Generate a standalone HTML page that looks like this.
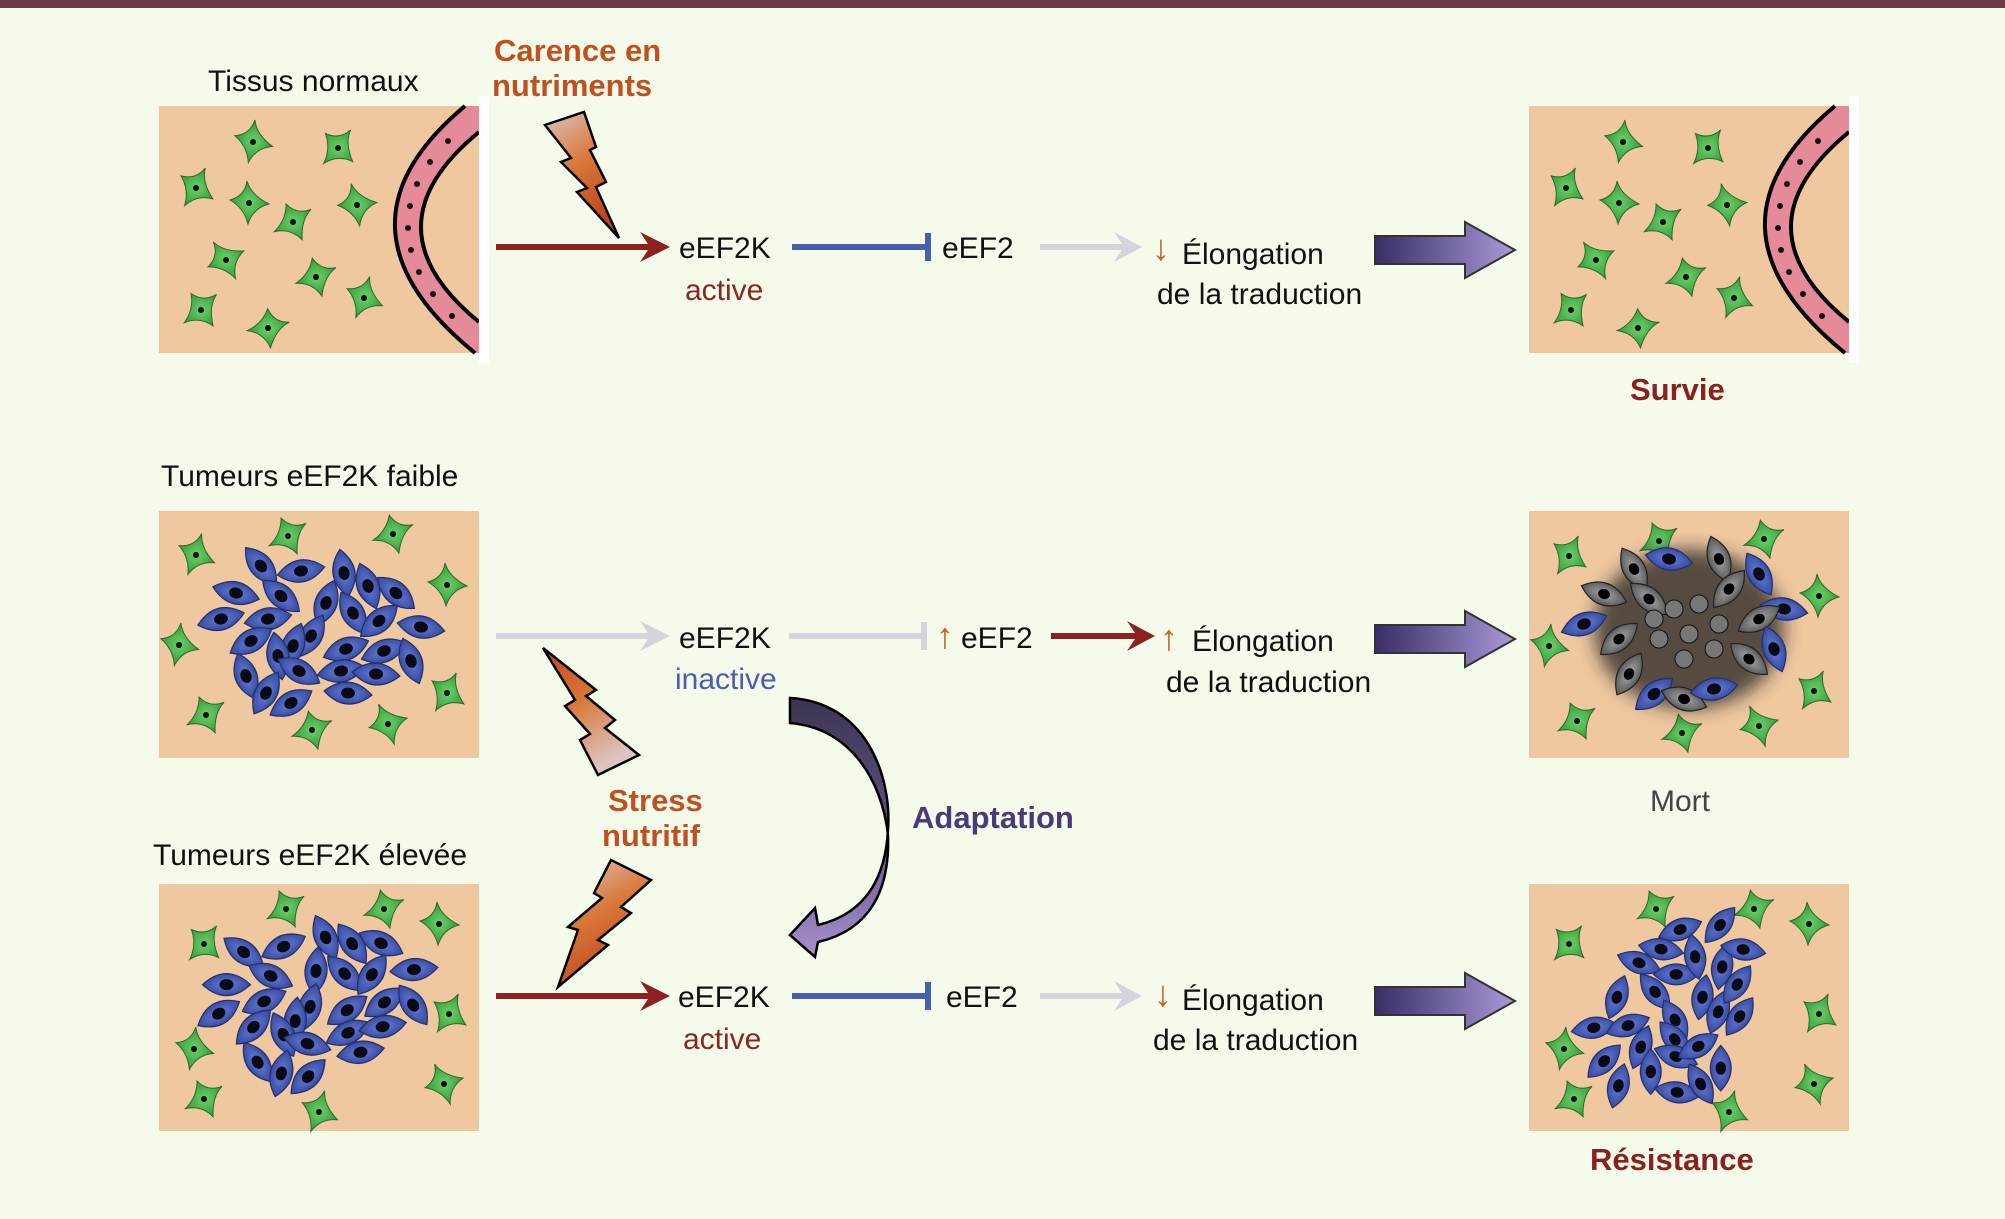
<!DOCTYPE html>
<html><head><meta charset="utf-8"><style>
html,body{margin:0;padding:0;background:#f4fbea;}
svg{display:block}
text{font-family:"Liberation Sans",sans-serif;}
</style></head><body>
<svg width="2005" height="1219" viewBox="0 0 2005 1219" xmlns="http://www.w3.org/2000/svg">
<defs>
<linearGradient id="lg1" x1="0" y1="0" x2="0.4" y2="1"><stop offset="0" stop-color="#dcc4c0"/><stop offset="0.5" stop-color="#d9783a"/><stop offset="1" stop-color="#c0461a"/></linearGradient>
<linearGradient id="lg2" x1="0" y1="0" x2="0.4" y2="1"><stop offset="0" stop-color="#c0461a"/><stop offset="0.5" stop-color="#d9783a"/><stop offset="1" stop-color="#dcc4c0"/></linearGradient>
<linearGradient id="lg3" x1="0.4" y1="1" x2="0" y2="0"><stop offset="0" stop-color="#c0461a"/><stop offset="0.5" stop-color="#d9783a"/><stop offset="1" stop-color="#dcc4c0"/></linearGradient>
<linearGradient id="pa" x1="0" y1="0" x2="1" y2="0"><stop offset="0" stop-color="#3a2d66"/><stop offset="1" stop-color="#a99ad8"/></linearGradient>
<linearGradient id="ca" x1="0" y1="0" x2="0" y2="1"><stop offset="0" stop-color="#3d3552"/><stop offset="0.5" stop-color="#5e5080"/><stop offset="1" stop-color="#a890d0"/></linearGradient>
<radialGradient id="gc"><stop offset="0" stop-color="#6fd06a"/><stop offset="1" stop-color="#2f9a3a"/></radialGradient>
<radialGradient id="bcg"><stop offset="0" stop-color="#6a80d8"/><stop offset="1" stop-color="#3448a0"/></radialGradient>
<radialGradient id="gyg"><stop offset="0" stop-color="#aaa"/><stop offset="1" stop-color="#555"/></radialGradient>
<filter id="bl"><feGaussianBlur stdDeviation="9"/></filter>
<g id="g"><path d="M-2,-22 Q2,-8 20,1 Q4,5 -1,21 Q-5,5 -19,-3 Q-4,-7 -2,-22Z" fill="url(#gc)" stroke="#2a6a2a" stroke-width="1"/><circle r="3" fill="#111"/></g>
<g id="b"><path d="M-24,0 Q0,-22 24,0 Q0,22 -24,0Z" fill="url(#bcg)" stroke="#24306a" stroke-width="1.2"/><ellipse rx="7" ry="5.5" fill="#0a0a14"/></g>
<g id="y"><path d="M-24,0 Q0,-22 24,0 Q0,22 -24,0Z" fill="url(#gyg)" stroke="#222" stroke-width="1.2"/><ellipse rx="6" ry="5" fill="#000"/></g>
<g id="cluster">
<use href="#b" transform="translate(-60,-75) rotate(50)"/>
<use href="#b" transform="translate(-20,-70) rotate(-10)"/>
<use href="#b" transform="translate(23,-68) rotate(80)"/>
<use href="#b" transform="translate(47,-55) rotate(70)"/>
<use href="#b" transform="translate(75,-48) rotate(40)"/>
<use href="#b" transform="translate(-85,-48) rotate(15)"/>
<use href="#b" transform="translate(-40,-45) rotate(40)"/>
<use href="#b" transform="translate(5,-38) rotate(-70)"/>
<use href="#b" transform="translate(32,-28) rotate(60)"/>
<use href="#b" transform="translate(-100,-22) rotate(-15)"/>
<use href="#b" transform="translate(-53,-22) rotate(-10)"/>
<use href="#b" transform="translate(-10,-5) rotate(-60)"/>
<use href="#b" transform="translate(58,-20) rotate(-40)"/>
<use href="#b" transform="translate(100,-14) rotate(10)"/>
<use href="#b" transform="translate(-70,0) rotate(-30)"/>
<use href="#b" transform="translate(-28,5) rotate(-70)"/>
<use href="#b" transform="translate(25,8) rotate(-20)"/>
<use href="#b" transform="translate(63,10) rotate(-20)"/>
<use href="#b" transform="translate(90,20) rotate(70)"/>
<use href="#b" transform="translate(-43,15) rotate(80)"/>
<use href="#b" transform="translate(-75,35) rotate(70)"/>
<use href="#b" transform="translate(-22,30) rotate(30)"/>
<use href="#b" transform="translate(20,30) rotate(-10)"/>
<use href="#b" transform="translate(55,33) rotate(5)"/>
<use href="#b" transform="translate(-55,52) rotate(-60)"/>
<use href="#b" transform="translate(-30,62) rotate(-30)"/>
<use href="#b" transform="translate(27,52) rotate(5)"/>
</g>
<g id="vessel">
<path d="M306,0 Q161,121 316,247 L320,247 L320,216 Q204,121 320,26 L320,0Z" fill="#e58a98"/>
<g fill="#111">
<circle cx="289" cy="35" r="3"/><circle cx="271" cy="56" r="3"/><circle cx="258" cy="78" r="3"/><circle cx="251" cy="100" r="3"/><circle cx="249" cy="122" r="3"/><circle cx="252" cy="144" r="3"/><circle cx="260" cy="166" r="3"/><circle cx="274" cy="188" r="3"/><circle cx="293" cy="210" r="3"/></g>
<path d="M306,0 Q161,121 316,247" fill="none" stroke="#000" stroke-width="4"/>
<path d="M320,26 Q204,121 320,216" fill="none" stroke="#000" stroke-width="4"/>
<rect x="320" y="-10" width="10" height="267" fill="#fff"/>
</g>
</defs>
<rect x="0" y="0" width="2005" height="8" fill="#6b3a48"/>

<!-- Panel 1 left -->
<g transform="translate(159,106)">
<rect width="320" height="247" fill="#efc8a0"/>
<use href="#g" transform="translate(94,36) rotate(10)"/><use href="#g" transform="translate(179,42) rotate(40)"/>
<use href="#g" transform="translate(37,82) rotate(30)"/><use href="#g" transform="translate(90,97)"/>
<use href="#g" transform="translate(134,116) rotate(60)"/><use href="#g" transform="translate(198,99) rotate(-10)"/>
<use href="#g" transform="translate(67,154) rotate(-30)"/><use href="#g" transform="translate(157,171) rotate(70)"/>
<use href="#g" transform="translate(205,192) rotate(20)"/><use href="#g" transform="translate(42,204) rotate(50)"/>
<use href="#g" transform="translate(109,222) rotate(80)"/>
<use href="#vessel"/>
</g>
<!-- Panel 1 right -->
<g transform="translate(1529,106)">
<rect width="320" height="247" fill="#efc8a0"/>
<use href="#g" transform="translate(94,36) rotate(10)"/><use href="#g" transform="translate(179,42) rotate(40)"/>
<use href="#g" transform="translate(37,82) rotate(30)"/><use href="#g" transform="translate(90,97)"/>
<use href="#g" transform="translate(134,116) rotate(60)"/><use href="#g" transform="translate(198,99) rotate(-10)"/>
<use href="#g" transform="translate(67,154) rotate(-30)"/><use href="#g" transform="translate(157,171) rotate(70)"/>
<use href="#g" transform="translate(205,192) rotate(20)"/><use href="#g" transform="translate(42,204) rotate(50)"/>
<use href="#g" transform="translate(109,222) rotate(80)"/>
<use href="#vessel"/>
</g>

<!-- Panel 2 left -->
<g transform="translate(159,511)">
<rect width="320" height="247" fill="#efc8a0"/>
<use href="#g" transform="translate(37,44) rotate(20)"/><use href="#g" transform="translate(129,25) rotate(60)"/>
<use href="#g" transform="translate(234,23) rotate(70)"/><use href="#g" transform="translate(288,74)"/>
<use href="#g" transform="translate(20,134) rotate(10)"/><use href="#g" transform="translate(288,182) rotate(30)"/>
<use href="#g" transform="translate(47,204) rotate(60)"/><use href="#g" transform="translate(153,219) rotate(70)"/>
<use href="#g" transform="translate(229,213) rotate(-20)"/>
<use href="#cluster" transform="translate(162,130)"/>
</g>
<!-- Panel 3 left -->
<g transform="translate(159,884)">
<rect width="320" height="247" fill="#efc8a0"/>
<use href="#g" transform="translate(45,60) rotate(40)"/><use href="#g" transform="translate(127,25) rotate(60)"/>
<use href="#g" transform="translate(225,25) rotate(70)"/><use href="#g" transform="translate(280,40)"/>
<use href="#g" transform="translate(35,165) rotate(10)"/><use href="#g" transform="translate(290,130) rotate(30)"/>
<use href="#g" transform="translate(45,215) rotate(60)"/><use href="#g" transform="translate(160,228) rotate(20)"/>
<use href="#g" transform="translate(285,200) rotate(-20)"/>
<use href="#cluster" transform="translate(162,125) rotate(-15)"/>
</g>
<!-- Panel 2 right (Mort) -->
<g transform="translate(1529,511)">
<rect width="320" height="247" fill="#efc8a0"/>
<use href="#g" transform="translate(40,45) rotate(30)"/><use href="#g" transform="translate(130,30) rotate(60)"/>
<use href="#g" transform="translate(235,28) rotate(70)"/><use href="#g" transform="translate(290,85)"/>
<use href="#g" transform="translate(20,135) rotate(10)"/><use href="#g" transform="translate(285,180) rotate(30)"/>
<use href="#g" transform="translate(48,210) rotate(60)"/><use href="#g" transform="translate(153,222) rotate(70)"/>
<use href="#g" transform="translate(230,215) rotate(-20)"/>
<ellipse cx="160" cy="118" rx="95" ry="80" fill="#222" filter="url(#bl)" opacity="0.75"/>
<g transform="translate(160,118)">
<use href="#y" transform="translate(-55,-60) rotate(60)"/><use href="#b" transform="translate(-20,-70) rotate(10)"/>
<use href="#y" transform="translate(30,-70) rotate(70)"/><use href="#b" transform="translate(70,-55) rotate(60)"/>
<use href="#y" transform="translate(-85,-35) rotate(20)"/><use href="#b" transform="translate(-105,-5) rotate(-20)"/>
<use href="#y" transform="translate(-70,10) rotate(-40)"/><use href="#b" transform="translate(95,-20) rotate(10)"/>
<use href="#y" transform="translate(70,-10) rotate(-30)"/><use href="#b" transform="translate(85,20) rotate(70)"/>
<use href="#y" transform="translate(60,30) rotate(40)"/><use href="#y" transform="translate(-60,45) rotate(-60)"/>
<use href="#b" transform="translate(-35,65) rotate(-40)"/><use href="#y" transform="translate(-5,70) rotate(20)"/>
<use href="#b" transform="translate(25,60) rotate(-10)"/><use href="#y" transform="translate(40,-40) rotate(-50)"/>
<use href="#y" transform="translate(-40,-30) rotate(40)"/>
<circle cx="-15" cy="-20" r="9" fill="#777" stroke="#111"/><circle cx="10" cy="-25" r="9" fill="#777" stroke="#111"/>
<circle cx="30" cy="-5" r="9" fill="#777" stroke="#111"/><circle cx="25" cy="20" r="9" fill="#777" stroke="#111"/>
<circle cx="-5" cy="30" r="9" fill="#777" stroke="#111"/><circle cx="-30" cy="10" r="9" fill="#777" stroke="#111"/>
<circle cx="-35" cy="-10" r="9" fill="#777" stroke="#111"/><circle cx="0" cy="5" r="9" fill="#777" stroke="#111"/>
</g>
</g>
<!-- Panel 3 right -->
<g transform="translate(1529,884)">
<rect width="320" height="247" fill="#efc8a0"/>
<use href="#g" transform="translate(40,60) rotate(40)"/><use href="#g" transform="translate(127,25) rotate(60)"/>
<use href="#g" transform="translate(225,25) rotate(70)"/><use href="#g" transform="translate(280,40)"/>
<use href="#g" transform="translate(35,165) rotate(10)"/><use href="#g" transform="translate(290,130) rotate(30)"/>
<use href="#g" transform="translate(45,215) rotate(60)"/><use href="#g" transform="translate(200,228) rotate(20)"/>
<use href="#g" transform="translate(285,200) rotate(-20)"/>
<use href="#cluster" transform="translate(155,130) rotate(-60) scale(0.95)"/>
</g>

<!-- Lightnings -->
<polygon points="545,125 584,112 596,147 590,150 606,182 596,187 619,238 577,192 587,188 561,162 571,158" fill="url(#lg1)" stroke="#000" stroke-width="2.5"/>
<polygon points="543,648 596,690 586,696 615,720 605,728 639,755 598,775 580,740 590,734 565,706 575,700" fill="url(#lg2)" stroke="#000" stroke-width="2.5"/>
<polygon points="611,860 651,880 621,907 631,913 598,940 608,945 558,987 578,930 568,927 602,898 594,893" fill="url(#lg3)" stroke="#000" stroke-width="2.5"/>

<!-- Curved adaptation arrow -->
<path d="M790,698 C865,702 892,775 888,830 C885,885 860,915 818,925 L815,908 L790,935 L815,957 L818,942 C870,930 890,890 888,835 C882,780 850,728 790,723 Z" fill="url(#ca)" stroke="#000" stroke-width="2.5"/>

<!-- Row arrows -->
<g stroke-width="6" fill="none">
<line x1="496" y1="247" x2="660" y2="247" stroke="#8e2020"/>
<line x1="792" y1="247" x2="928" y2="247" stroke="#4a5eb0"/><line x1="928" y1="233" x2="928" y2="261" stroke="#4a5eb0"/>
<line x1="1040" y1="247" x2="1132" y2="247" stroke="#d4d4dc"/>
<line x1="496" y1="636" x2="660" y2="636" stroke="#d4d4dc"/>
<line x1="789" y1="636" x2="924" y2="636" stroke="#d4d4dc"/><line x1="924" y1="622" x2="924" y2="650" stroke="#d4d4dc"/>
<line x1="1051" y1="636" x2="1146" y2="636" stroke="#8e2020"/>
<line x1="496" y1="996" x2="660" y2="996" stroke="#8e2020"/>
<line x1="792" y1="996" x2="928" y2="996" stroke="#4a5eb0"/><line x1="928" y1="982" x2="928" y2="1010" stroke="#4a5eb0"/>
<line x1="1040" y1="996" x2="1132" y2="996" stroke="#d4d4dc"/>
</g>
<polygon points="640,232 670,247 640,262 650,247" fill="#8e2020"/>
<polygon points="1114,232 1142,247 1114,262 1124,247" fill="#d4d4dc"/>
<polygon points="640,621 670,636 640,651 650,636" fill="#d4d4dc"/>
<polygon points="1127,621 1155,636 1127,651 1137,636" fill="#8e2020"/>
<polygon points="640,981 670,996 640,1011 650,996" fill="#8e2020"/>
<polygon points="1114,981 1142,996 1114,1011 1124,996" fill="#d4d4dc"/>

<!-- Big purple arrows -->
<g stroke="#333" stroke-width="2">
<polygon points="1375,236 1465,236 1465,222 1515,250 1465,278 1465,264 1375,264" fill="url(#pa)"/>
<polygon points="1375,625 1465,625 1465,611 1515,639 1465,667 1465,653 1375,653" fill="url(#pa)"/>
<polygon points="1375,987 1465,987 1465,973 1515,1001 1465,1029 1465,1015 1375,1015" fill="url(#pa)"/>
</g>

<!-- Text -->
<g font-size="30" fill="#111">
<text x="208" y="91">Tissus normaux</text>
<text x="161" y="486">Tumeurs  eEF2K faible</text>
<text x="153" y="865">Tumeurs eEF2K élevée</text>
<text x="679" y="258">eEF2K</text>
<text x="942" y="258">eEF2</text>
<text x="1182" y="264">Élongation</text>
<text x="1157" y="304">de la traduction</text>
<text x="679" y="648">eEF2K</text>
<text x="961" y="648">eEF2</text>
<text x="1192" y="651">Élongation</text>
<text x="1166" y="692">de la traduction</text>
<text x="678" y="1007">eEF2K</text>
<text x="946" y="1007">eEF2</text>
<text x="1182" y="1010">Élongation</text>
<text x="1153" y="1050">de la traduction</text>
<text x="1650" y="811" fill="#444">Mort</text>
</g>
<g font-size="36" fill="#d0601c">
<text x="1152" y="260">↓</text><text x="1160" y="650">↑</text><text x="1154" y="1006">↓</text><text x="936" y="648">↑</text>
</g>
<g font-size="31" font-weight="bold" fill="#c0501f">
<text x="494" y="61">Carence en</text>
<text x="492" y="96">nutriments</text>
<text x="608" y="811">Stress</text>
<text x="602" y="846">nutritif</text>
</g>
<text x="685" y="300" font-size="30" fill="#8b2424">active</text>
<text x="683" y="1049" font-size="30" fill="#8b2424">active</text>
<text x="675" y="689" font-size="30" fill="#4a5eb0">inactive</text>
<text x="912" y="828" font-size="31" fill="#4a3a7a" font-weight="bold">Adaptation</text>
<text x="1630" y="400" font-size="31" font-weight="bold" fill="#8b2020">Survie</text>
<text x="1590" y="1170" font-size="31" font-weight="bold" fill="#8b2020">Résistance</text>
</svg>
</body></html>
